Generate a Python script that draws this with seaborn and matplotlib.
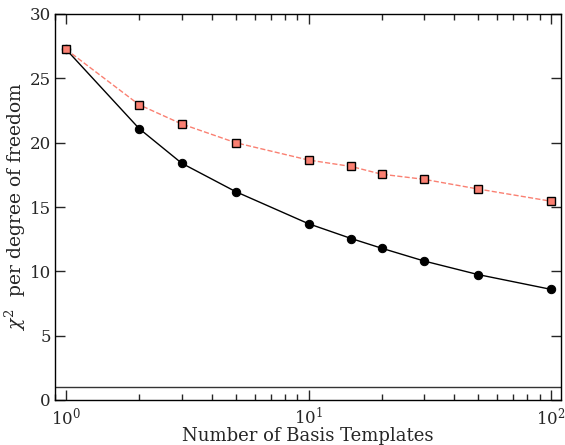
import matplotlib
matplotlib.use("Agg")
import matplotlib.pyplot as plt
import seaborn as sns
import pandas as pd
from matplotlib.ticker import LogLocator, NullFormatter

n_templates = [1, 2, 3, 5, 10, 15, 20, 30, 50, 100]
chi2_black = [27.25, 21.1, 18.4, 16.2, 13.7, 12.55, 11.8, 10.8, 9.75, 8.6]
chi2_red = [27.25, 22.95, 21.45, 20.0, 18.65, 18.15, 17.55, 17.15, 16.4, 15.45]
ref_level = 1.0

sns.set_style("ticks")
plt.rcParams['font.family'] = ['DejaVu Serif']
plt.rcParams['mathtext.fontset'] = 'dejavuserif'

df_b = pd.DataFrame({"n": n_templates, "chi2": chi2_black})
df_r = pd.DataFrame({"n": n_templates, "chi2": chi2_red})

fig = plt.figure(figsize=(5.65, 4.45), dpi=100)
ax = fig.add_axes([55/565, 45/445, 506/565, 386/445])

ax.axhline(ref_level, color="#333333", lw=1.0)
sns.lineplot(data=df_b, x="n", y="chi2", ax=ax, color="black", lw=1.0,
             marker="o", markersize=6, markerfacecolor="black", markeredgecolor="black")
sns.lineplot(data=df_r, x="n", y="chi2", ax=ax, color="salmon", linestyle="--", lw=1.0,
             marker="s", markersize=6, markerfacecolor="salmon", markeredgecolor="black",
             markeredgewidth=1.0)

ax.set_xscale("log")
ax.set_xlim(0.9, 110)
ax.set_ylim(0, 30)
ax.set_yticks([0, 5, 10, 15, 20, 25, 30])
ax.xaxis.set_major_locator(LogLocator(base=10))
ax.xaxis.set_minor_locator(LogLocator(base=10, subs=range(2, 10)))
ax.xaxis.set_minor_formatter(NullFormatter())

ax.tick_params(which="both", direction="in", top=True, right=True, labelsize=12)
ax.tick_params(axis="y", pad=3)
ax.tick_params(axis="x", pad=5)
ax.tick_params(which="major", length=7, width=1)
ax.tick_params(which="minor", length=4, width=1)
for s in ax.spines.values():
    s.set_linewidth(1.0)
    s.set_color("black")

ax.set_xlabel("Number of Basis Templates", fontsize=13)
ax.xaxis.set_label_coords(0.5, -0.07)
ax.set_ylabel(r"$\chi^2$  per degree of freedom", fontsize=13.5)
ax.yaxis.set_label_coords(-27/506, 0.5)

fig.savefig("out.png", dpi=100)
